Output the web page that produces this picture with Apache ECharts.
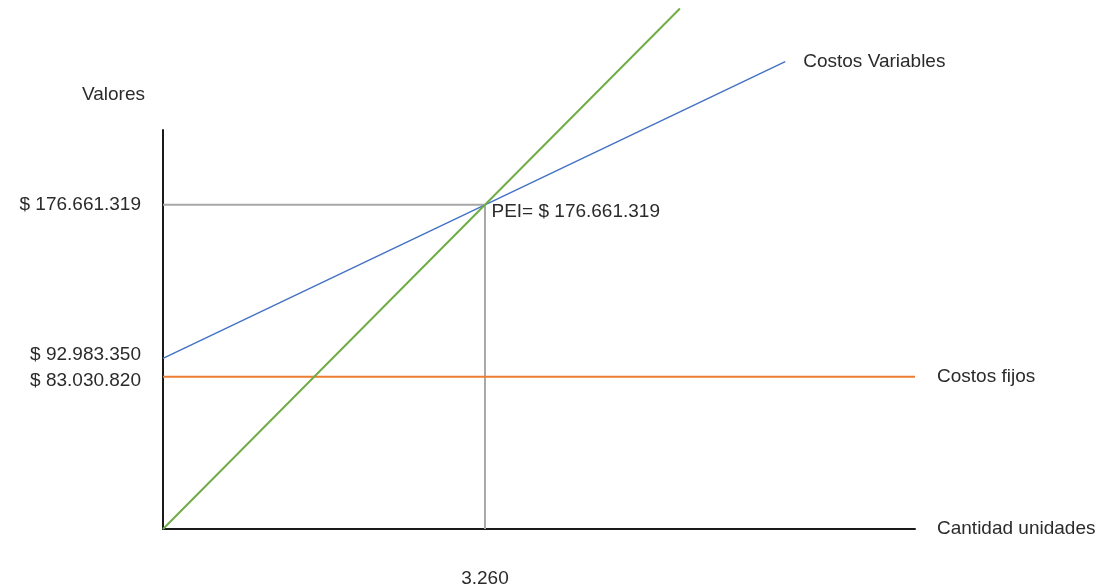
<!DOCTYPE html>
<html>
<head>
<meta charset="utf-8">
<script src="https://cdn.jsdelivr.net/npm/echarts@6/dist/echarts.min.js"></script>
<style>
  html, body { margin: 0; padding: 0; background: #ffffff; }
  #chart { width: 1114px; height: 588px; }
</style>
</head>
<body>
<div id="chart"></div>
<script>
// Punto de equilibrio: unidades en el eje x, valores en pesos en el eje y
const peiUnits = 3260;
const peiValue = 176661319;

// Vértices de cada recta [unidades, valor]
const ingresos = [[0, 0], [3260, 176661319], [5234, 283633548]];
const costosVariables = [[0, 92983350], [3260, 176661319], [6300, 254692317]];
const costosFijos = [[0, 83030820], [7614, 83030820]];
const guiaPEI = [[0, 176661319], [3260, 176661319], [3260, 0]];

// Marcas de los ejes
const yTickValues = [176661319, 92983350, 83030820];
const xTickValues = [3260];

const FONT = '"Liberation Sans", Arial, sans-serif';
const TEXT = '#2b2b2b';
const SIZE = 19;

function miles(n) {
  return String(Math.round(n)).replace(/\B(?=(\d{3})+(?!\d))/g, '.');
}

const chart = echarts.init(document.getElementById('chart'), null, { renderer: 'canvas' });

chart.setOption({
  backgroundColor: '#ffffff',
  animation: false,
  textStyle: { fontFamily: FONT, color: TEXT },
  grid: { left: 163, right: 199, top: 130, bottom: 58, containLabel: false },
  xAxis: {
    type: 'value',
    min: 0,
    max: 7614,
    name: 'Cantidad unidades',
    nameLocation: 'end',
    nameGap: 22,
    nameTextStyle: { fontFamily: FONT, fontSize: SIZE, color: TEXT },
    axisLine: { show: true, lineStyle: { color: '#1a1a1a', width: 2 } },
    axisTick: { show: false },
    splitLine: { show: false },
    axisLabel: {
      customValues: xTickValues,
      margin: 40,
      fontFamily: FONT,
      fontSize: SIZE,
      color: TEXT,
      formatter: v => miles(v)
    }
  },
  yAxis: {
    type: 'value',
    min: 0,
    max: 217430000,
    name: 'Valores',
    nameLocation: 'end',
    nameGap: 26,
    nameTextStyle: { fontFamily: FONT, fontSize: SIZE, color: TEXT, align: 'right', padding: [0, 18, 0, 0] },
    axisLine: { show: true, lineStyle: { color: '#1a1a1a', width: 2 } },
    axisTick: { show: false },
    splitLine: { show: false },
    axisLabel: {
      customValues: yTickValues,
      hideOverlap: false,
      margin: 22,
      fontFamily: FONT,
      fontSize: SIZE,
      color: TEXT,
      // the two lower values sit close together: nudge them apart a little
      formatter: v => {
        const s = '$ ' + miles(v);
        if (v === 92983350) return '{up|' + s + '}';
        if (v === 83030820) return '{down|' + s + '}';
        return s;
      },
      rich: {
        up: { fontFamily: FONT, fontSize: SIZE, color: TEXT, padding: [0, 0, 8, 0] },
        down: { fontFamily: FONT, fontSize: SIZE, color: TEXT, padding: [8, 0, 0, 0] }
      }
    }
  },
  series: [
    {
      name: 'Guía PEI',
      type: 'line',
      data: guiaPEI,
      symbol: 'none',
      clip: false,
      z: 1,
      lineStyle: { color: '#a8a8a8', width: 2 }
    },
    {
      name: 'Costos fijos',
      type: 'line',
      data: costosFijos,
      symbol: 'none',
      clip: false,
      z: 2,
      lineStyle: { color: '#ED7D31', width: 2 },
      endLabel: {
        show: true,
        formatter: 'Costos fijos',
        distance: 22,
        fontFamily: FONT,
        fontSize: SIZE,
        color: TEXT
      }
    },
    {
      name: 'Costos Variables',
      type: 'line',
      data: costosVariables,
      symbol: 'none',
      clip: false,
      z: 3,
      lineStyle: { color: '#4472C4', width: 1.5 },
      endLabel: {
        show: true,
        formatter: 'Costos Variables',
        distance: 18,
        fontFamily: FONT,
        fontSize: SIZE,
        color: TEXT
      }
    },
    {
      name: 'Ingresos',
      type: 'line',
      data: ingresos,
      symbol: 'none',
      clip: false,
      z: 4,
      lineStyle: { color: '#70AD47', width: 2 }
    },
    {
      name: 'PEI',
      type: 'scatter',
      data: [[peiUnits, peiValue]],
      symbolSize: 1,
      itemStyle: { color: 'rgba(0,0,0,0)', opacity: 1 },
      z: 5,
      label: {
        show: true,
        position: 'right',
        distance: 6,
        offset: [0, 7],
        formatter: () => 'PEI= $ ' + miles(peiValue),
        fontFamily: FONT,
        fontSize: SIZE,
        color: TEXT,
        opacity: 1
      }
    }
  ]
});
</script>
</body>
</html>
